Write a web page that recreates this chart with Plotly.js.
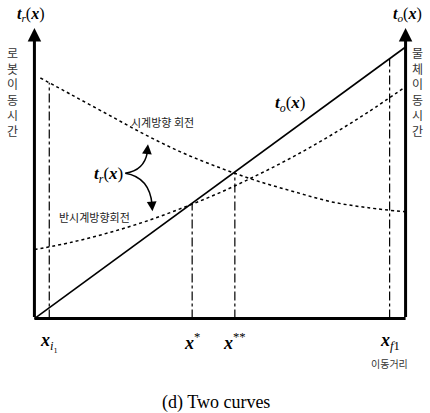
<!DOCTYPE html>
<html>
<head>
<meta charset="utf-8">
<script src="https://cdn.plot.ly/plotly-3.0.1.min.js"></script>
<style>
  html, body { margin: 0; padding: 0; background: #fff; }
  #chart { width: 430px; height: 413px; }
</style>
</head>
<body>
<div id="chart"></div>
<script>
// Travel distance (x) from 0 to 100, travel time (t) from 0 to 100.
// Object travel time t_o(x): straight line.
const objX = [0, 100];
const objT = [0, 100];

// Robot travel time t_r(x), clockwise rotation (decreasing).
const cwX = [1.6, 10, 20, 30, 40, 50, 60, 70, 80, 90, 100];
const cwT = [88.6, 82.4, 75.0, 67.6, 61.0, 55.5, 50.7, 46.7, 43.0, 40.8, 39.3];

// Robot travel time t_r(x), counter-clockwise rotation (increasing).
const ccwX = [0, 10, 20, 30, 40, 50, 60, 70, 80, 90, 100];
const ccwT = [25.4, 28.1, 31.6, 35.8, 40.8, 46.4, 52.8, 59.8, 67.6, 76.1, 85.4];

// Marked distances on the x axis and the height each guide line reaches.
const markX = [4.0, 42.5, 54.0, 95.7];
const markTop = [86.8, 42.5, 54.0, 95.7];
const markLabels = [
  '<i><b>x</b></i><sub><i>i</i>₁</sub>',
  '<i><b>x</b></i><sup>*</sup>',
  '<i><b>x</b></i><sup>**</sup>',
  '<i><b>x</b></i><sub><i>f</i>1</sub>'
];

const serif = 'Liberation Serif, Times New Roman, serif';
const kr = 'Noto Sans CJK KR, sans-serif';

const traces = [];

// dash-dot guide lines
markX.forEach((x, i) => {
  traces.push({
    x: [x, x], y: [0, markTop[i]], mode: 'lines', hoverinfo: 'skip',
    line: { color: '#000', width: 1.2, dash: 'dashdot' }
  });
});

traces.push({
  x: cwX, y: cwT, mode: 'lines', hoverinfo: 'skip',
  line: { color: '#000', width: 1.5, dash: 'dot', shape: 'spline' }
});
traces.push({
  x: ccwX, y: ccwT, mode: 'lines', hoverinfo: 'skip',
  line: { color: '#000', width: 1.5, dash: 'dot', shape: 'spline' }
});
traces.push({
  x: objX, y: objT, mode: 'lines', hoverinfo: 'skip',
  line: { color: '#000', width: 1.6 }
});

const tLabel = (sub) => '<i><b>t</b></i><sub><i>' + sub + '</i></sub>(<i><b>x</b></i>)';

const annotations = [
  // vertical axes with arrowheads
  { x: 0, y: 107, ax: 0, ay: 0, xref: 'x', yref: 'y', axref: 'x', ayref: 'y',
    text: '', showarrow: true, arrowhead: 2, arrowsize: 0.9, arrowwidth: 3, arrowcolor: '#000' },
  { x: 100, y: 107, ax: 100, ay: 0, xref: 'x', yref: 'y', axref: 'x', ayref: 'y',
    text: '', showarrow: true, arrowhead: 2, arrowsize: 0.9, arrowwidth: 3, arrowcolor: '#000' },

  // axis titles
  { x: 0, y: 1, xref: 'x', yref: 'paper', yanchor: 'bottom', yshift: 2, xshift: -4,
    text: tLabel('r'), showarrow: false, font: { family: serif, size: 16, color: '#000' } },
  { x: 100, y: 1, xref: 'x', yref: 'paper', yanchor: 'bottom', yshift: 2, xshift: 2,
    text: tLabel('o'), showarrow: false, font: { family: serif, size: 16, color: '#000' } },

  // vertical Korean captions beside the axes
  { x: 0, y: 102, xref: 'x', yref: 'y', xanchor: 'center', yanchor: 'top', xshift: -22,
    text: '로<br>봇<br>이<br>동<br>시<br>간', showarrow: false,
    font: { family: kr, size: 12, color: '#333' } },
  { x: 100, y: 102, xref: 'x', yref: 'y', xanchor: 'center', yanchor: 'top', xshift: 12,
    text: '물<br>체<br>이<br>동<br>시<br>간', showarrow: false,
    font: { family: kr, size: 12, color: '#333' } },

  // curve labels
  { x: 34.5, y: 72.5, xref: 'x', yref: 'y', text: '시계방향 회전', showarrow: false,
    font: { family: kr, size: 11, color: '#222' } },
  { x: 16.2, y: 37.3, xref: 'x', yref: 'y', text: '반시계방향회전', showarrow: false,
    font: { family: kr, size: 11, color: '#222' } },
  { x: 69, y: 79, xref: 'x', yref: 'y', text: tLabel('o'), showarrow: false,
    font: { family: serif, size: 17, color: '#000' } },
  { x: 20, y: 53, xref: 'x', yref: 'y', text: tLabel('r'), showarrow: false,
    font: { family: serif, size: 17, color: '#000' } },

  // arrowheads at the ends of the curved pointers
  { x: 30.6, y: 64.2, ax: 30.3, ay: 60.5, xref: 'x', yref: 'y', axref: 'x', ayref: 'y',
    text: '', showarrow: true, arrowhead: 2, arrowsize: 1.3, arrowwidth: 1.5, arrowcolor: '#000' },
  { x: 31.8, y: 39.5, ax: 31.6, ay: 43.0, xref: 'x', yref: 'y', axref: 'x', ayref: 'y',
    text: '', showarrow: true, arrowhead: 2, arrowsize: 1.3, arrowwidth: 1.5, arrowcolor: '#000' },

  // distance label under the right end
  { x: markX[3], y: 0, xref: 'x', yref: 'paper', yanchor: 'top', yshift: -30,
    text: '이동거리', showarrow: false, font: { family: kr, size: 10, color: '#333' } },

  // caption
  { x: 0.49, y: 0, xref: 'paper', yref: 'paper', yanchor: 'top', yshift: -66,
    text: '(d) Two curves', showarrow: false, font: { family: serif, size: 18, color: '#000' } }
];

markX.forEach((x, i) => {
  annotations.push({
    x: x, y: 0, xref: 'x', yref: 'paper', yanchor: 'top', yshift: -4,
    text: markLabels[i], showarrow: false, font: { family: serif, size: 18, color: '#000' }
  });
});

const shapes = [
  // horizontal axis
  { type: 'line', xref: 'x', yref: 'y', x0: 0, x1: 100, y0: 0, y1: 0,
    line: { color: '#000', width: 3 } },
  // curved pointers from the t_r(x) label
  { type: 'path', xref: 'x', yref: 'y', path: 'M 24.5,53.5 Q 29.5,54.5 30.4,61',
    line: { color: '#000', width: 1.5 } },
  { type: 'path', xref: 'x', yref: 'y', path: 'M 24.5,53.5 Q 31,52 31.7,42',
    line: { color: '#000', width: 1.5 } }
];

const layout = {
  width: 430, height: 413,
  margin: { l: 27, r: 17, t: 28, b: 89 },
  paper_bgcolor: '#fff', plot_bgcolor: '#fff',
  showlegend: false,
  xaxis: { range: [-2, 102], showgrid: false, zeroline: false, showticklabels: false,
           showline: false, ticks: '', fixedrange: true },
  yaxis: { range: [-2, 107], showgrid: false, zeroline: false, showticklabels: false,
           showline: false, ticks: '', fixedrange: true },
  annotations: annotations,
  shapes: shapes
};

Plotly.newPlot('chart', traces, layout, { displayModeBar: false, staticPlot: true });
</script>
</body>
</html>
